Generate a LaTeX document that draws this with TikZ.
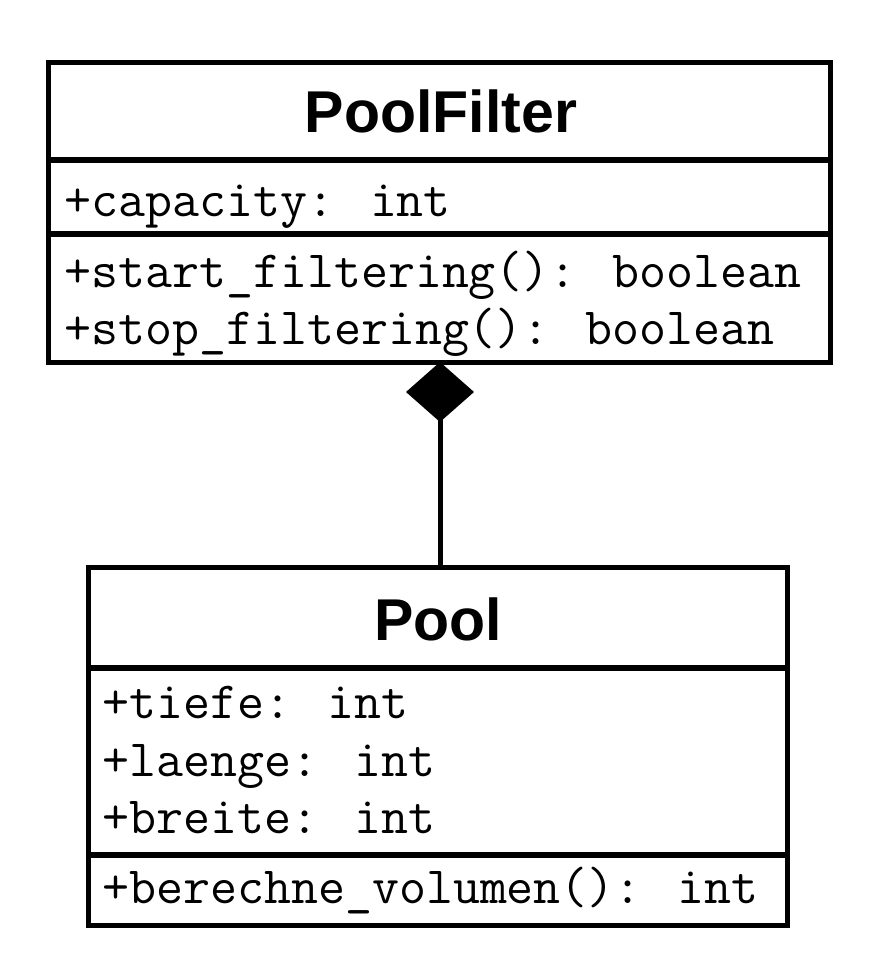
\documentclass[tikz,border=0pt]{standalone}
\usepackage{fontspec}
\setmainfont{Liberation Sans}
\usetikzlibrary{arrows.meta}
\tikzset{
  classbox/.style={draw=black,line width=5pt,fill=white,inner sep=0pt,outer sep=0pt},
  classname/.style={anchor=base,inner sep=0pt,font=\fontsize{59}{62}\selectfont\bfseries},
  member/.style={anchor=base west,inner sep=0pt,font=\ttfamily\fontsize{52.4}{56}\selectfont},
  divider/.style={line width=6pt},
}

\begin{document}
\begin{tikzpicture}[x=1pt,y=-1pt]
\useasboundingbox (0,0) rectangle (892,968);

% PoolFilter
\node[classbox,minimum width=782pt,minimum height=299pt] (filter) at (439,212.5) {};
\draw[divider] (filter.west |- 0,160) -- (filter.east |- 0,160);
\draw[divider] (filter.west |- 0,234) -- (filter.east |- 0,234);
\node[classname] (filtername) at (441,133) {PoolFilter};
\node[member] (capacity) at (64,217) {+capacity: int};
\node[member] (start) at (64,287) {+start\_filtering(): boolean};
\node[member] (stop) at (64,344) {+stop\_filtering(): boolean};

% Pool
\node[classbox,minimum width=699pt,minimum height=358pt] (pool) at (437.5,746) {};
\draw[divider] (pool.west |- 0,668) -- (pool.east |- 0,668);
\draw[divider] (pool.west |- 0,855) -- (pool.east |- 0,855);
\node[classname] (poolname) at (438,640) {Pool};
\node[member] (tiefe) at (102,718) {+tiefe: int};
\node[member] (laenge) at (102,776) {+laenge: int};
\node[member] (breite) at (102,833) {+breite: int};
\node[member] (volumen) at (102,903) {+berechne\_volumen(): int};

% composition
\coordinate (joint) at (pool.north -| 440,0);
\draw[line width=5pt,-{Diamond[length=60pt,width=68pt,line width=0pt]}] (joint) -- (filter.south -| joint);

\end{tikzpicture}
\end{document}
